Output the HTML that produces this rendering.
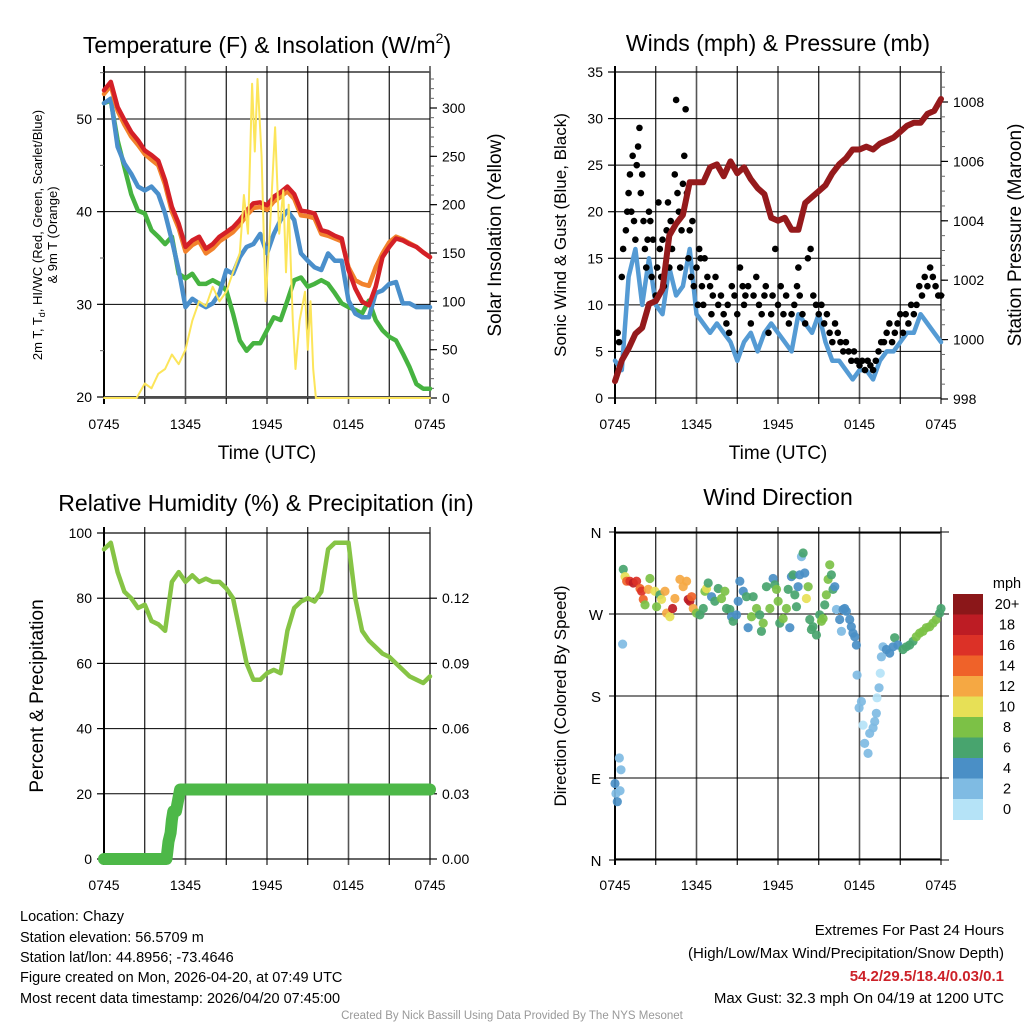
<!DOCTYPE html>
<html><head><meta charset="utf-8">
<style>
body{margin:0;background:#fff;}
svg{display:block;font-family:"Liberation Sans",Arial,sans-serif;}
</style></head>
<body>
<svg id="chart" width="1024" height="1024" viewBox="0 0 1024 1024" xmlns="http://www.w3.org/2000/svg">
<rect width="1024" height="1024" fill="#fff"/>
<text x="267" y="53" font-size="23" text-anchor="middle">Temperature (F) &amp; Insolation (W/m<tspan font-size="14" dy="-10">2</tspan><tspan dy="10">)</tspan></text>
<text x="778" y="51" font-size="23" text-anchor="middle">Winds (mph) &amp; Pressure (mb)</text>
<text x="266" y="511" font-size="23" text-anchor="middle">Relative Humidity (%) &amp; Precipitation (in)</text>
<text x="778" y="505" font-size="23" text-anchor="middle">Wind Direction</text>

<text x="267" y="459" font-size="19" text-anchor="middle">Time (UTC)</text>
<text x="778" y="459" font-size="19" text-anchor="middle">Time (UTC)</text>

<text transform="translate(42,235) rotate(-90)" font-size="13" text-anchor="middle">2m T, T<tspan font-size="9" dy="3">d</tspan><tspan dy="-3">, HI/WC (Red, Green, Scarlet/Blue)</tspan></text>
<text transform="translate(57,235) rotate(-90)" font-size="13" text-anchor="middle">&amp; 9m T (Orange)</text>
<text transform="translate(501,235) rotate(-90)" font-size="19" text-anchor="middle">Solar Insolation (Yellow)</text>
<text transform="translate(566,235) rotate(-90)" font-size="17" text-anchor="middle">Sonic Wind &amp; Gust (Blue, Black)</text>
<text transform="translate(1021,235) rotate(-90)" font-size="19" text-anchor="middle">Station Pressure (Maroon)</text>
<text transform="translate(43,696) rotate(-90)" font-size="19" text-anchor="middle">Percent &amp; Precipitation</text>
<text transform="translate(566,696) rotate(-90)" font-size="17" text-anchor="middle">Direction (Colored By Speed)</text>

<g id="layer"></g>

<g font-size="14.5">
<text x="20" y="921">Location: Chazy</text>
<text x="20" y="942">Station elevation: 56.5709 m</text>
<text x="20" y="962">Station lat/lon: 44.8956; -73.4646</text>
<text x="20" y="982">Figure created on Mon, 2026-04-20, at 07:49 UTC</text>
<text x="20" y="1003">Most recent data timestamp: 2026/04/20 07:45:00</text>
</g>
<g font-size="15" text-anchor="end">
<text x="1004" y="935">Extremes For Past 24 Hours</text>
<text x="1004" y="958">(High/Low/Max Wind/Precipitation/Snow Depth)</text>
<text x="1004" y="981" fill="#cc2229" font-weight="bold">54.2/29.5/18.4/0.03/0.1</text>
<text x="1004" y="1003">Max Gust: 32.3 mph On 04/19 at 1200 UTC</text>
</g>
<text x="512" y="1019" font-size="11.5" fill="#999" text-anchor="middle">Created By Nick Bassill Using Data Provided By The NYS Mesonet</text>
</svg>
<script>
// ---- data ----
const halfHours = [0,0.5,1,1.5,2,2.5,3,3.5,4,4.5,5,5.5,6,6.5,7,7.5,8,8.5,9,9.5,10,10.5,11,11.5,12,12.5,13,13.5,14,14.5,15,15.5,16,16.5,17,17.5,18,18.5,19,19.5,20,20.5,21,21.5,22,22.5,23,23.5,24];
const timeTickLabels = ["0745","1345","1945","0145","0745"];
const tempRed = [53.1,54,51.3,49.9,48.6,47.7,46.6,46.1,45.5,43.4,40.5,38.7,36.2,36.9,37.3,36,36.5,37.3,37.8,38.3,39.1,40.1,40.9,41,40.7,41.6,42.1,42.7,41.9,40.1,40,39.8,38,37.8,37.4,37.1,33.7,31.7,30.3,29.9,31.9,35.1,36.2,37.1,36.9,36.5,36.2,35.6,35.1];
const tempOrange = [52.7,53.6,50.9,49.4,48.1,47.2,46.2,45.6,45,42.9,40,38.2,35.7,36.4,36.8,35.5,36,36.8,37.3,37.8,38.6,39.6,40.4,40.5,40.2,41.1,41.6,42.2,41.4,39.6,39.5,39.3,37.6,37.4,37.1,36.8,34,32.6,32.2,32,34,35.5,36.7,37.3,37,36.6,36.2,35.6,35.1];
const tempBlue = [51.7,52.2,47,45.2,44.1,42.7,42.3,42.7,41.9,39.8,36.9,33.7,29.7,30.6,30.1,29.7,30.1,31.2,33.7,33.3,35.1,36.2,36.5,37.6,35.5,37.6,39.1,40.1,39.1,35.5,34.7,34,33.7,35.5,34.7,34.7,30.4,29,28.6,28.6,31.2,31.5,32.2,32.4,30.1,30.1,29.7,29.7,29.7];
const tempGreen = [51.7,52,47.7,44.8,41.9,40.1,39.8,38,37.3,36.5,37.3,33.3,32.8,33.3,32.2,32.2,32.6,32.2,31.5,29,26.1,25,25.8,25.8,27.2,28.6,28.3,30.4,32.6,32.9,31.9,32.2,32.6,32.2,31.2,30.1,29.7,29.4,29,30.4,28.3,27.2,26.5,26.1,24.7,23.2,21.4,20.9,20.9];
const solarHours = [0,2.4,3,3.5,4,4.5,5,5.5,6,6.5,7,7.5,8,8.5,9,9.5,10,10.3,10.6,10.9,11.1,11.3,11.6,11.9,12.2,12.6,12.9,13.2,13.4,13.6,13.9,14.1,14.4,14.8,15.0,15.2,15.4,15.6,24];
const solarValues = [0,0,15,10,25,30,45,35,50,80,100,95,115,100,110,130,150,210,170,325,255,330,250,100,170,280,170,215,130,200,80,30,80,110,50,100,30,0,0];
const windSpeed = [4,3,13,16,10,15,10,9,14,11,12,16,9,8,7,8,7,6,4,6,7,5,7,8,7,6,5,9,8,7,9,6,4,4,3,2,3,3,2,4,5,5,6,7,7,9,8,7,6];
const pressure = [998.6,999.3,999.7,1000.2,1000.4,1001.2,1001.3,1001.7,1003.5,1003.9,1004.2,1005.3,1005.3,1005.3,1005.8,1005.9,1005.5,1006,1005.6,1005.8,1005.4,1005.1,1004.9,1004.1,1004,1004.1,1003.7,1003.7,1004.6,1004.8,1005,1005.2,1005.6,1005.9,1006.1,1006.4,1006.4,1006.5,1006.4,1006.6,1006.7,1006.8,1007,1007.2,1007.3,1007.3,1007.6,1007.7,1008.1];
const gustHours = [0.2,0.3,0.5,0.6,0.8,0.9,1.0,1.1,1.2,1.3,1.4,1.5,1.6,1.7,1.8,1.9,2.0,2.1,2.2,2.3,2.4,2.5,2.6,2.7,2.8,3.0,3.1,3.2,3.3,3.4,3.5,3.6,3.8,3.9,4.0,4.1,4.2,4.4,4.5,4.6,4.7,4.8,4.9,5.0,5.1,5.2,5.3,5.4,5.5,5.6,5.7,5.8,6.0,6.1,6.2,6.3,6.4,6.5,6.6,6.8,7.0,7.1,7.2,7.4,7.6,7.8,8.0,8.2,8.3,8.4,8.6,8.8,9.0,9.2,9.4,9.5,9.6,9.8,10.0,10.2,10.4,10.6,10.8,11.0,11.1,11.3,11.5,11.6,11.8,12.0,12.2,12.4,12.6,12.8,13.0,13.2,13.4,13.5,13.6,13.8,14.0,14.2,14.4,14.6,14.8,15.0,15.2,15.4,15.6,15.8,16.0,16.2,16.4,16.6,16.8,17.0,17.2,17.4,17.6,17.8,18.0,18.2,18.4,18.6,18.8,19.0,19.2,19.4,19.6,19.8,20.0,20.2,20.4,20.6,20.8,21.0,21.2,21.4,21.6,21.8,22.0,22.2,22.4,22.6,22.8,23.0,23.2,23.4,23.6,23.8,24.0];
const gustValues = [7,6,13,16,18,20,22,24,20,26,19,17,25,27,29,22,24,19,16,14,17,20,19,13,17,11,14,21,16,13,17,12,18,21,14,19,16,24,32,22,20,14,18,23,26,31,22,15,18,13,19,12,14,10,16,15,12,10,15,13,12,9,11,13,10,11,9,8,10,7,12,11,9,14,12,10,11,12,8,11,13,10,9,11,12,7,9,11,16,10,12,9,11,8,9,10,12,14,11,9,8,15,16,11,10,9,10,8,9,7,6,8,7,6,5,6,5,4,5,4,3.5,4,3,4,3.5,3,4,5,6,6,7,8,6,7,8,9,7,9,8,10,9,10,12,11,13,12,14,13,12,11,11];
const rh = [95,97,88,82,80,77,78,73,72,70,85,88,85,87,85,86,85,85,83,80,70,60,55,55,57,58,57,70,77,79,80,79,82,95,97,97,97,80,70,67,65,63,62,60,58,56,55,54,56];
const precipHours = [0,4.6,4.75,4.9,5.0,5.1,5.3,5.6,24];
const precipValues = [0,0,0.008,0.012,0.018,0.022,0.022,0.032,0.032];
const dirHours = [0,0.07,0.17,0.32,0.37,0.44,0.56,0.61,0.74,0.86,1.10,1.35,1.59,1.84,1.96,2.08,2.21,2.45,2.57,2.94,3.06,3.31,3.43,3.68,3.80,4.04,4.24,4.41,4.78,5.02,5.27,5.39,5.51,5.64,5.76,6.00,6.25,6.50,6.62,6.74,6.86,7.11,7.35,7.60,7.84,8.09,8.21,8.46,8.58,8.70,8.95,9.07,9.19,9.44,9.68,9.80,10.05,10.17,10.42,10.66,10.78,10.91,11.15,11.40,11.64,11.76,11.89,12.01,12.13,12.38,12.62,12.75,12.87,12.99,13.11,13.24,13.36,13.48,13.60,13.73,13.85,13.97,14.09,14.22,14.34,14.46,14.58,14.83,15.07,15.20,15.32,15.44,15.56,15.69,15.81,15.93,16.05,16.18,16.30,16.54,16.67,16.79,16.91,17.03,17.28,17.40,17.52,17.65,17.77,17.82,17.97,18.14,18.26,18.38,18.63,18.75,19.00,19.12,19.24,19.29,19.44,19.53,19.61,19.73,19.98,20.22,20.47,20.59,20.83,21.20,21.45,21.69,21.94,22.18,22.43,22.67,22.92,23.16,23.41,23.65,23.90,24.0];
const dirDegrees = [84,73,64,112,76,99,237,319,311,306,306,304,306,298,295,286,280,297,309,295,278,291,286,295,271,267,276,287,308,300,306,286,284,289,276,271,269,276,295,298,304,289,284,298,287,295,276,275,267,262,269,284,306,295,289,255,267,289,276,269,251,260,300,276,309,302,297,284,260,265,276,297,255,311,313,291,278,300,313,333,337,315,287,300,264,253,256,247,269,262,265,280,291,308,324,313,297,300,275,264,251,275,276,273,264,256,249,245,236,203,167,174,148,128,117,139,145,152,161,178,189,205,223,234,231,227,234,244,236,231,234,236,240,245,249,251,255,256,260,264,271,276];
const dirSpeeds = [4,2,4,2,2,2,2,6,10,14,16,18,16,14,16,14,8,12,8,10,8,6,10,12,12,10,18,12,12,12,12,18,18,14,12,8,6,6,8,10,6,4,6,6,8,8,6,6,4,6,4,4,4,4,6,4,8,6,8,6,6,8,6,8,4,6,8,8,6,8,8,6,4,4,6,6,6,4,4,2,6,4,10,8,6,6,6,6,6,8,8,6,8,8,8,6,6,4,2,4,2,4,4,4,4,4,4,4,4,2,2,2,0,2,2,2,2,2,2,0,2,0,2,2,4,4,4,6,4,6,6,6,6,8,8,8,8,8,8,8,6,6];
const speedLabels = ["20+","18","16","14","12","10","8","6","4","2","0"];
const speedColors = ["#b5e3f7","#7fbbe3","#4a8fc6","#48a46e","#7cc146","#e7e056","#f5a843","#ef6229","#dc3127","#bd1c24","#8b1719"];

// ---- helpers ----
const NS = "http://www.w3.org/2000/svg";
const layer = document.getElementById('layer');
function mk(tag, attrs, parent){
  const e = document.createElementNS(NS, tag);
  for (const k in attrs) e.setAttribute(k, attrs[k]);
  (parent||layer).appendChild(e);
  return e;
}
function lin(d0,d1,r0,r1){ return v => r0 + (v-d0)/(d1-d0)*(r1-r0); }

const P1 = {x0:104,x1:430,y0:72,y1:398};
const P2 = {x0:615,x1:941,y0:72,y1:398};
const P3 = {x0:104,x1:430,y0:533,y1:859};
const P4 = {x0:615,x1:941,y0:533,y1:859};

function frame(P, name){
  const g = mk('g',{});
  
  
  const xs = lin(0,24,P.x0,P.x1);
  for (let h=3; h<24; h+=3){
    const ln = mk('line',{x1:xs(h),x2:xs(h),y1:P.y0-6,y2:P.y1+6,stroke:(h%6===0)?'#555':'#000','stroke-width':(h%6===0)?1.6:1.1},g);
    
    
  }
  timeTickLabels.forEach((lab,i)=>{
    const t = mk('text',{x:xs(i*6),y:P.y1+31,'font-size':14,'text-anchor':'middle'},g);
    t.textContent = lab;
    
    
  });
  const b = mk('rect',{x:P.x0,y:P.y0,width:P.x1-P.x0,height:P.y1-P.y0,fill:'none',stroke:'#000','stroke-width':1.2},g);
  
  
  mk('line',{x1:P.x0,x2:P.x0,y1:P.y0-6,y2:P.y1+6,stroke:'#000','stroke-width':2},g);
  mk('line',{x1:P.x1,x2:P.x1,y1:P.y0-6,y2:P.y1+6,stroke:'#555','stroke-width':1.6},g);
  return xs;
}
function yAxis(P, ys, ticks, fmt, side, name, minorStep, lo, hi, grid){
  const g = mk('g',{});
  
  
  if (minorStep){
    for (let v=lo; v<=hi+1e-9; v+=minorStep){
      const y = ys(v);
      if (y<P.y0-1||y>P.y1+1) continue;
      const x = side==='left'?P.x0:P.x1;
      mk('line',{x1:x,x2:side==='left'?x-4:x+4,y1:y,y2:y,stroke:'#666','stroke-width':1},g);
    }
  }
  ticks.forEach(v=>{
    const y = ys(v);
    if (grid) {
      const gl = mk('line',{x1:P.x0,x2:P.x1,y1:y,y2:y,stroke:'#000','stroke-width':1},g);
      
      
    }
    const x = side==='left'?P.x0:P.x1;
    mk('line',{x1:x,x2:side==='left'?x-7:x+7,y1:y,y2:y,stroke:'#000','stroke-width':1.2},g);
    const t = mk('text',{x:side==='left'?x-12:x+12,y:y+5,'font-size':14,'text-anchor':side==='left'?'end':'start'},g);
    t.textContent = fmt(v);
    
    
  });
}
function path(xsArr, ysArr, xs, ys, attrs, name){
  let d = '';
  xsArr.forEach((h,i)=>{ d += (i?'L':'M') + xs(h).toFixed(1) + ',' + ys(ysArr[i]).toFixed(1); });
  const p = mk('path', Object.assign({d:d,fill:'none','stroke-linejoin':'round','stroke-linecap':'round'}, attrs));
  
  
  return p;
}

// ---- panel 1: temperature ----
let xs = frame(P1, 'temperature-panel');
const yT = lin(20,50,397,119);
const yS = lin(0,300,398,108);
mk('line',{x1:P1.x0,x2:P1.x1,y1:397,y2:397,stroke:'#999','stroke-width':2});
yAxis(P1, yT, [20,30,40,50], v=>v, 'left', 'temperature-y-axis', 5, 20, 55, true);
yAxis(P1, yS, [0,50,100,150,200,250,300], v=>v, 'right', 'solar-y-axis', 10, 0, 330, false);
path(halfHours, tempGreen, xs, yT, {stroke:'#46b340','stroke-width':4.5}, 'dewpoint-line');
path(halfHours, tempBlue, xs, yT, {stroke:'#4a8fcb','stroke-width':4.5}, 'windchill-line');
path(halfHours, tempOrange, xs, yT, {stroke:'#f2822c','stroke-width':4.5}, 'temp-9m-line');
path(halfHours, tempRed, xs, yT, {stroke:'#d42027','stroke-width':4.5}, 'temp-2m-line');
path(solarHours, solarValues, xs, yS, {stroke:'#fce55a','stroke-width':2}, 'solar-line');

// ---- panel 2: winds ----
xs = frame(P2, 'winds-panel');
const yW = lin(0,35,398,72);
const yP = lin(998,1008,399,102);
yAxis(P2, yW, [0,5,10,15,20,25,30,35], v=>v, 'left', 'wind-y-axis', 0, 0, 0, true);
yAxis(P2, yP, [998,1000,1002,1004,1006,1008], v=>v, 'right', 'pressure-y-axis', 0.5, 998, 1009, false);
path(halfHours, windSpeed, xs, yW, {stroke:'#559bd4','stroke-width':4.5}, 'wind-speed-line');
gustHours.forEach((h,i)=>{
  const c = mk('circle',{cx:xs(h),cy:yW(gustValues[i]),r:3.3,fill:'#000'});
  
  
});
path(halfHours, pressure, xs, yP, {stroke:'#951a1c','stroke-width':6}, 'pressure-line');

// ---- panel 3: humidity ----
xs = frame(P3, 'humidity-panel');
const yR = lin(0,100,859,533);
const yPr = lin(0,0.15,859,533);
yAxis(P3, yR, [0,20,40,60,80,100], v=>v, 'left', 'rh-y-axis', 0, 0, 0, true);
yAxis(P3, yPr, [0,0.03,0.06,0.09,0.12], v=>v.toFixed(2), 'right', 'precip-y-axis', 0, 0, 0, false);
path(halfHours, rh, xs, yR, {stroke:'#86c445','stroke-width':4.5}, 'rh-line');
path(precipHours, precipValues, xs, yPr, {stroke:'#4db848','stroke-width':12}, 'precip-line');

// ---- panel 4: wind direction ----
xs = frame(P4, 'wind-direction-panel');
const yD = lin(0,360,860,532);
const dirLabels = ["N","E","S","W","N"];
[0,90,180,270,360].forEach((v,i)=>{
  const y = yD(v);
  const gl = mk('line',{x1:P4.x0-6,x2:P4.x1+8,y1:y,y2:y,stroke:'#000','stroke-width':1});
  
  
  const t = mk('text',{x:P4.x0-19,y:y+6,'font-size':15,'text-anchor':'middle'});
  t.textContent = dirLabels[i];
  
  
});
dirHours.forEach((h,i)=>{
  const idx = Math.min(10, Math.round(dirSpeeds[i]/2));
  const c = mk('circle',{cx:xs(h),cy:yD(dirDegrees[i]),r:4.6,fill:speedColors[idx],'fill-opacity':0.92});
  
  
});
// colorbar
const cb = mk('g',{});


const ct = mk('text',{x:1007,y:588,'font-size':14.5,'text-anchor':'middle'},cb);
ct.textContent = 'mph';


speedLabels.forEach((lab,i)=>{
  const y = 594 + i*20.5;
  const r = mk('rect',{x:953,y:y,width:30,height:21,fill:speedColors[10-i]},cb);
  
  
  const t = mk('text',{x:1007,y:y+15,'font-size':14.5,'text-anchor':'middle'},cb);
  t.textContent = lab;
  
  
});
</script>
</body></html>
